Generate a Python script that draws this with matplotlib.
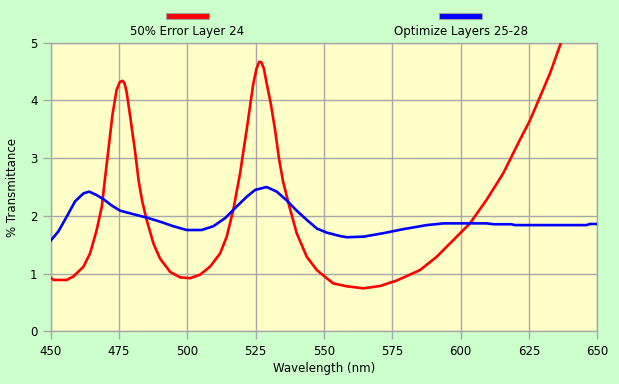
import numpy as np
import matplotlib
matplotlib.use('Agg')
import matplotlib.pyplot as plt
from matplotlib.patches import Rectangle

# red curve: 50% error on layer 24
red_nm = [450, 451, 455.9, 458.3, 462, 464.4, 466.8, 468.7, 470.0, 471.1, 472.6, 474.1,
          475.3, 476.3, 477.0, 477.8, 479.3, 480.8, 482.2, 483.5, 485.1, 487.6, 490, 493.7,
          497.3, 501, 504.6, 508.3, 512, 514.4, 516.8, 519.3, 520.5, 521.7, 523.0, 524.1,
          525.3, 526.3, 527.1, 528.0, 529.0, 530.5, 532.1, 533.5, 535.0, 537, 540, 543.7,
          547.4, 551, 553.4, 558.3, 564.4, 570.5, 576.6, 585.1, 591.2, 597.3, 603.4, 609.5,
          615.6, 621.7, 625.4, 629.1, 632.7, 636.7]
red_t = [0.93, 0.89, 0.89, 0.95, 1.12, 1.35, 1.75, 2.16, 2.70, 3.14, 3.75, 4.18,
         4.32, 4.34, 4.30, 4.14, 3.65, 3.14, 2.60, 2.25, 1.93, 1.52, 1.26, 1.03,
         0.935, 0.92, 0.98, 1.12, 1.35, 1.64, 2.10, 2.74, 3.12, 3.49, 3.92, 4.28,
         4.55, 4.67, 4.66, 4.55, 4.30, 3.95, 3.49, 3.00, 2.60, 2.22, 1.70, 1.29,
         1.06, 0.92, 0.83, 0.78, 0.745, 0.785, 0.88, 1.06, 1.29, 1.58, 1.87, 2.28,
         2.74, 3.32, 3.66, 4.07, 4.47, 5.0]

# blue curve: optimize layers 25-28
blue_nm = [450, 452.8, 455.9, 458.9, 462, 464.1, 466.8, 469.3, 472.3, 475.4, 480.2, 485.1,
           490, 494.9, 499.8, 505.2, 509.5, 513.8, 518, 521.7, 524.8, 529, 532.7, 536.3,
           540, 543.7, 547.4, 551, 555.9, 558.3, 564.4, 571.7, 579, 587.6, 593.7, 609.5,
           611.9, 618.6, 619.8, 646, 647.3, 650]
blue_t = [1.57, 1.73, 1.99, 2.25, 2.39, 2.42, 2.36, 2.29, 2.18, 2.09, 2.03, 1.97,
          1.90, 1.82, 1.755, 1.755, 1.82, 1.96, 2.16, 2.33, 2.45, 2.50, 2.42, 2.27,
          2.09, 1.93, 1.78, 1.71, 1.65, 1.63, 1.64, 1.70, 1.77, 1.84, 1.87, 1.87,
          1.855, 1.855, 1.84, 1.84, 1.86, 1.86]

xticks = [450, 475, 500, 525, 550, 575, 600, 625, 650]
yticks = [0, 1, 2, 3, 4, 5]
labels = ['50% Error Layer 24', 'Optimize Layers 25-28']

bg = '#ccffcc'
grid = '#a8a8a8'

fig = plt.figure(figsize=(6.19, 3.84), dpi=100, facecolor=bg)
ax = fig.add_axes([0.0819, 0.1372, 0.965 - 0.0819, 0.8888 - 0.1372])
ax.set_facecolor('#ffffc8')

ax.plot(red_nm, red_t, color='#ff0000', lw=1.9, solid_joinstyle='round', zorder=3)
ax.plot(blue_nm, blue_t, color='#0000ff', lw=1.9, solid_joinstyle='round', zorder=3)

ax.set_xlim(450, 650)
ax.set_ylim(0, 5)
ax.set_xticks(xticks)
ax.set_yticks(yticks)
ax.grid(True, color=grid, lw=1.0)
for s in ax.spines.values():
    s.set_color(grid)
    s.set_linewidth(1.0)
ax.tick_params(colors=grid, labelcolor='black', length=6, width=1.0, labelsize=8.5)
ax.set_xlabel('Wavelength (nm)', fontsize=8.5, labelpad=3)
ax.set_ylabel('% Transmittance', fontsize=8.5, labelpad=8)

# legend across the top
W, H = 619, 384
for (x0, col, lab, xc) in [(166, '#ff0000', labels[0], 187), (439, '#0000ff', labels[1], 461)]:
    fig.add_artist(Rectangle((x0 / W, 1 - 18.5 / H), 43 / W, 6 / H, transform=fig.transFigure,
                             facecolor=col, edgecolor='#a0a0a0', lw=0.8))
    fig.text(xc / W, 1 - 31 / H, lab, ha='center', va='center', fontsize=8.5)

fig.savefig('out.png', dpi=100, facecolor=bg)
